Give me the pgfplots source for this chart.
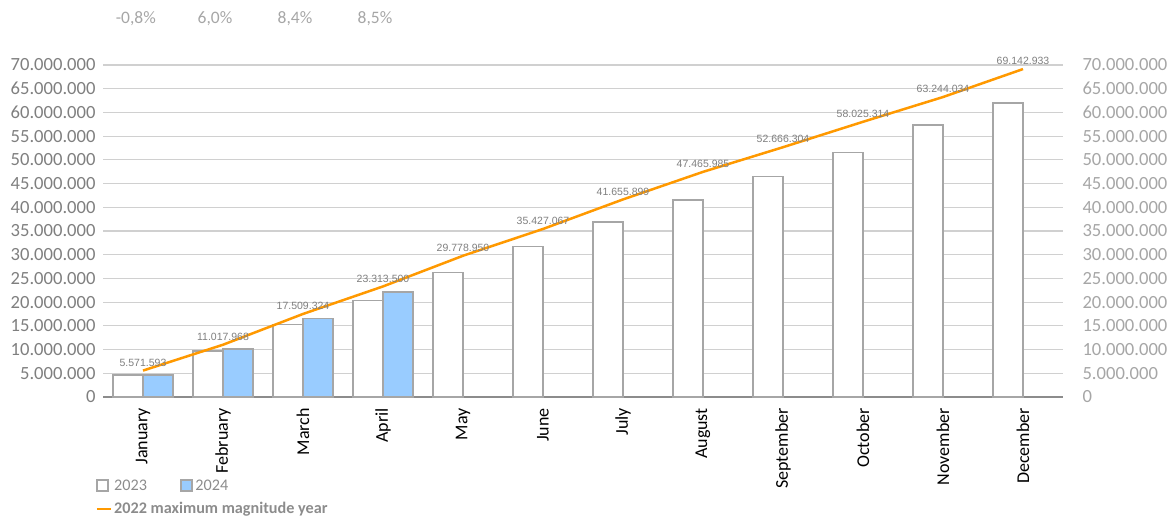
\documentclass[border=0pt]{standalone}
\usepackage{fontspec}
\setmainfont{Carlito}
\newfontfamily\arialf{Liberation Sans}
\usepackage{pgfplots}
\pgfplotsset{compat=1.18}

\definecolor{gridgray}{HTML}{D0D0D0}
\definecolor{axisgray}{HTML}{8C8C8C}
\definecolor{barborder}{HTML}{A6A6A6}
\definecolor{barblue}{HTML}{99CCFF}
\definecolor{lineorange}{HTML}{FF9900}
\definecolor{leftlab}{HTML}{7F7F7F}
\definecolor{rightlab}{HTML}{A6A6A6}
\definecolor{datalab}{HTML}{7F7F7F}

\newcommand{\fs}[1]{\fontsize{#1bp}{#1bp}\selectfont}

\begin{document}
\begin{tikzpicture}
% main axis: bars, 2022 line, left tick labels
\begin{axis}[
    at={(103bp,120bp)}, anchor=south west,
    scale only axis, width=960bp, height=332bp,
    xmin=-0.5, xmax=11.5, ymin=0, ymax=70000000,
    clip=false,
    axis line style={draw=none},
    major tick length=0pt,
    xtick={0,...,11},
    xticklabels={January,February,March,April,May,June,July,August,September,October,November,December},
    xticklabel style={rotate=90, anchor=east, inner xsep=11bp, font=\fs{18}, text=black},
    ytick={0,5000000,...,70000000},
    scaled y ticks=false,
    yticklabel style={font=\fs{18.6}, text=leftlab, xshift=-4bp,
        /pgf/number format/.cd, fixed, precision=0, 1000 sep={.}, assume math mode=true},
    ymajorgrids,
    grid style={draw=gridgray, line width=1.2bp},
    extra y ticks={0},
    extra y tick labels={},
    extra y tick style={grid style={draw=axisgray, line width=2.5bp}},
    legend columns=2,
    legend cell align=left,
    legend style={at={(axis description cs:-0.011,-0.236)}, anchor=north west,
        draw=none, fill=none, font=\fs{16.2}, text=axisgray,
        /tikz/every even column/.append style={column sep=31bp},
        row sep=7bp},
]
\addplot[ybar, bar width=30bp, bar shift=-15bp, fill=white, draw=barborder, line width=1.5bp,
    legend image code/.code={\draw[fill=white, draw=barborder, line width=2.5bp] (0bp,-5.5bp) rectangle (11bp,5.5bp);}]
    coordinates {
    (0,4650000) (1,9700000) (2,15300000) (3,20300000) (4,26250000) (5,31750000)
    (6,36900000) (7,41500000) (8,46500000) (9,51500000) (10,57400000) (11,62000000)
};
\addlegendentry{2023}
\addplot[ybar, bar width=30bp, bar shift=15bp, fill=barblue, draw=barborder, line width=1.5bp,
    legend image code/.code={\draw[fill=barblue, draw=barborder, line width=2.5bp] (0bp,-5.5bp) rectangle (11bp,5.5bp);}]
    coordinates {
    (0,4620000) (1,10150000) (2,16500000) (3,22100000)
};
\addlegendentry{2024}
\addplot[sharp plot, draw=lineorange, line width=2.5bp, mark=none,
    point meta=explicit symbolic,
    nodes near coords,
    every node near coord/.append style={font=\arialf\fs{10.5}, text=datalab,
        anchor=south, inner sep=0pt, yshift=3bp},
    legend image code/.code={\draw[draw=lineorange, line width=2.5bp] (0bp,0bp) -- (14bp,0bp);}]
    coordinates {
    (0,5571593) [5.571.593]
    (1,11017968) [11.017.968]
    (2,17509324) [17.509.324]
    (3,23313500) [23.313.500]
    (4,29778950) [29.778.950]
    (5,35427067) [35.427.067]
    (6,41655899) [41.655.899]
    (7,47465985) [47.465.985]
    (8,52666304) [52.666.304]
    (9,58025314) [58.025.314]
    (10,63244034) [63.244.034]
    (11,69142933) [69.142.933]
};
\addlegendentry{\makebox[0pt][l]{\bfseries 2022 maximum magnitude year}}
% year-on-year change, January to April
\node[font=\fs{17.5}, text=rightlab] at (axis cs:-0.09,79800000) {-0,8\%};
\node[font=\fs{17.5}, text=rightlab] at (axis cs:0.9,79800000) {6,0\%};
\node[font=\fs{17.5}, text=rightlab] at (axis cs:1.9,79800000) {8,4\%};
\node[font=\fs{17.5}, text=rightlab] at (axis cs:2.9,79800000) {8,5\%};
\end{axis}
% right-hand copy of the value axis
\begin{axis}[
    at={(103bp,120bp)}, anchor=south west,
    scale only axis, width=960bp, height=332bp,
    xmin=-0.5, xmax=11.5, ymin=0, ymax=70000000,
    hide x axis,
    axis y line*=right,
    y axis line style={draw=none},
    major tick length=0pt,
    ytick={0,5000000,...,70000000},
    scaled y ticks=false,
    yticklabel style={font=\fs{18.6}, text=rightlab, xshift=16bp,
        /pgf/number format/.cd, fixed, precision=0, 1000 sep={.}, assume math mode=true},
]
\end{axis}
\pgfresetboundingbox
\path (0,0) rectangle (1173bp,517bp);
\end{tikzpicture}
\end{document}
